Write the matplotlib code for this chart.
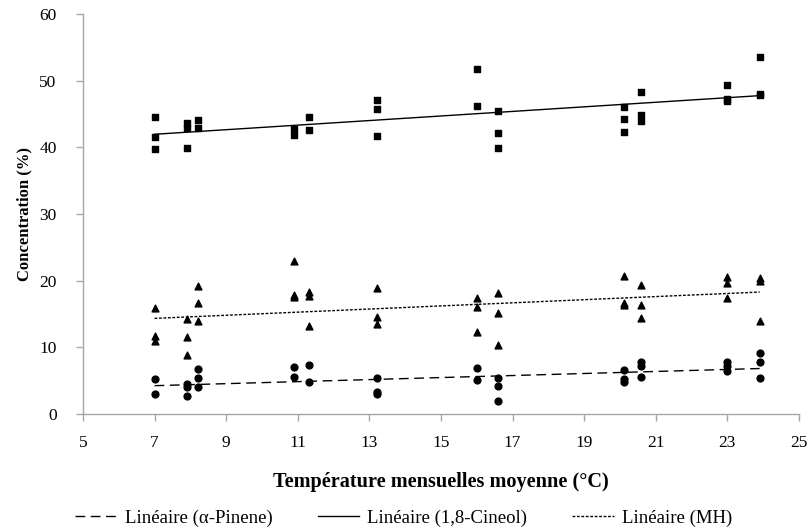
import numpy as np
import matplotlib
matplotlib.use("Agg")
import matplotlib.pyplot as plt

plt.rcParams['font.family'] = ['Liberation Serif', 'DejaVu Serif']

# mean monthly temperature (x) and concentrations
temps = [7.0, 7.9, 8.2, 10.9, 11.3, 13.2, 16.0, 16.6, 20.1, 20.6, 23.0, 23.9]

cineol = [[44.6, 41.6, 39.8], [43.6, 42.9, 39.9], [44.1, 42.9],
          [42.7, 41.8], [44.6, 42.6], [47.1, 45.7, 41.7],
          [51.8, 46.2], [45.4, 42.1, 39.9], [46.1, 44.2, 42.3],
          [48.3, 44.9, 43.9], [49.4, 47.3, 47.0], [53.6, 48.0, 47.8]]

mh = [[15.9, 11.7, 11.0], [14.2, 11.5, 8.8], [19.2, 16.7, 14.0],
      [23.0, 17.8, 17.5], [18.3, 17.7, 13.2], [18.9, 14.6, 13.5],
      [17.4, 16.0, 12.3], [18.2, 15.2, 10.3], [20.7, 16.6, 16.4],
      [19.4, 16.4, 14.4], [20.5, 19.6, 17.4], [20.4, 20.0, 14.0]]

pinene = [[5.2, 3.0], [4.5, 4.0, 2.7], [6.7, 5.4, 4.1],
          [7.1, 5.6], [7.3, 4.8], [5.4, 3.3, 3.0],
          [6.9, 5.1], [5.4, 4.2, 2.0], [6.6, 5.2, 4.8],
          [7.8, 7.2, 5.6], [7.8, 7.2, 6.4], [9.1, 7.8, 5.4]]

xticks = list(range(5, 26, 2))
yticks = list(range(0, 61, 10))


def flat(groups):
    xs, ys = [], []
    for t, vals in zip(temps, groups):
        for v in vals:
            xs.append(t)
            ys.append(v)
    return np.array(xs), np.array(ys)


fig = plt.figure(figsize=(8.12, 5.28), dpi=100)
ax = fig.add_axes([0.1022, 0.2159, 0.8818, 0.7576])

xc, yc = flat(cineol)
xm, ym = flat(mh)
xp, yp = flat(pinene)

ax.scatter(xc, yc, marker='s', s=21, color='black', zorder=3)
ax.scatter(xm, ym, marker='^', s=24, color='black', zorder=3)
ax.scatter(xp, yp, marker='o', s=24, color='black', zorder=3)

# linear trend lines (Excel "Linéaire")
xfit = np.array([min(temps), max(temps)])
lines = []
for xs, ys, ls, lab in [(xp, yp, (0, (7, 4)), 'Linéaire (α-Pinene)'),
                        (xc, yc, '-', 'Linéaire (1,8-Cineol)'),
                        (xm, ym, (0, (2, 1.2)), 'Linéaire (MH)')]:
    a, b = np.polyfit(xs, ys, 1)
    ln, = ax.plot(xfit, a * xfit + b, color='black', lw=1.0, linestyle=ls, label=lab)
    lines.append(ln)

ax.set_xlim(5, 25)
ax.set_ylim(0, 60)
ax.set_xticks(xticks)
ax.set_yticks(yticks)

for s in ['top', 'right']:
    ax.spines[s].set_visible(False)
for s in ['left', 'bottom']:
    ax.spines[s].set_color('#a6a6a6')
    ax.spines[s].set_linewidth(1.0)
ax.tick_params(axis='both', colors='#a6a6a6', length=5, width=1.0,
               labelcolor='black', labelsize=12.5)
ax.tick_params(axis='y', pad=14)
ax.tick_params(axis='x', pad=10)

ax.set_xlabel('Température mensuelles moyenne (°C)', fontsize=14.6, fontweight='bold', labelpad=15)
ax.set_ylabel('Concentration (%)', fontsize=12, fontweight='bold', labelpad=5)

fig.legend(handles=lines, loc='lower left', bbox_to_anchor=(0.072, -0.03), ncol=3,
           frameon=False, fontsize=13.5, handlelength=2.2, handletextpad=0.45,
           columnspacing=2.4)

fig.savefig('out.png', dpi=100)
